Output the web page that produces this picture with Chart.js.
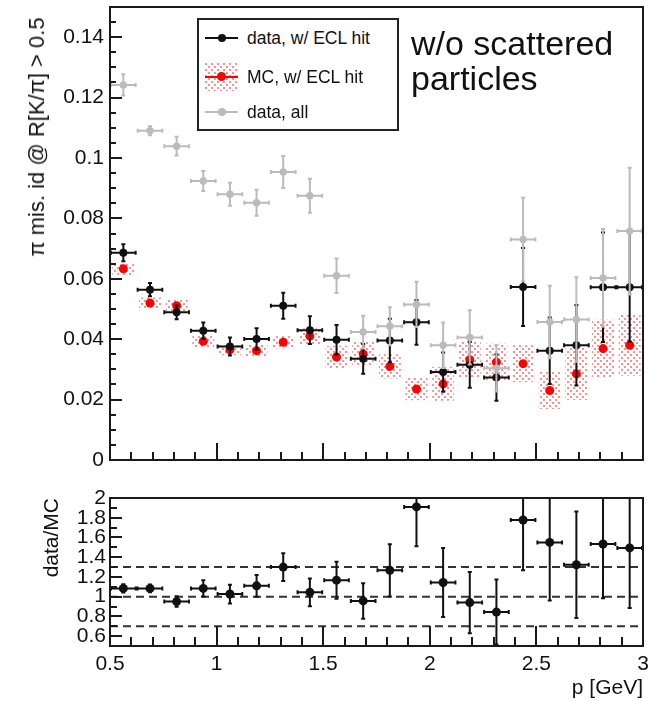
<!DOCTYPE html>
<html>
<head>
<meta charset="utf-8">
<script src="https://cdn.jsdelivr.net/npm/chart.js@4.4.1/dist/chart.umd.min.js"></script>
<style>
  body { margin: 0; background: #fff; width: 648px; height: 701px; position: relative; overflow: hidden;
         font-family: "Liberation Sans", Arial, sans-serif; color: #111; }
  canvas { position: absolute; left: 0; }
  #top { top: 0; }
  #bottom { top: 470px; }
  .ytitle { position: absolute; left: 37px; top: 137px; font-size: 22px; white-space: nowrap;
            transform: translate(-50%, -50%) rotate(-90deg); }
  .legend { position: absolute; left: 197px; top: 18px; width: 198px; height: 109px;
            border: 2px solid #222; background: #fff; }
  .row { position: absolute; left: 0; height: 30px; width: 100%; }
  .row .line { position: absolute; left: 6px; width: 33px; top: 14px; height: 2px; }
  .row .dot { position: absolute; left: 19px; top: 11px; width: 8px; height: 8px; border-radius: 50%; }
  .row .txt { position: absolute; left: 48px; top: 4px; font-size: 17.5px; line-height: 22px; white-space: nowrap; }
  #legHatch { position: absolute; left: 6px; top: 1px; }
  .note { position: absolute; left: 411px; top: 26px; font-size: 34px; line-height: 35px; color: #111; }
</style>
</head>
<body>
<canvas id="top" width="648" height="470"></canvas>
<canvas id="bottom" width="648" height="231"></canvas>

<div class="ytitle">π mis. id @ R[K/π] &gt; 0.5</div>
<div class="legend">
  <div class="row" style="top:3px"><div class="line" style="background:#111"></div><div class="dot" style="background:#111"></div><div class="txt">data, w/ ECL hit</div></div>
  <div class="row" style="top:42px"><canvas id="legHatch" width="33" height="28"></canvas><div class="line" style="background:#f00"></div><div class="dot" style="background:#f00;width:9px;height:9px;left:18px;top:10px"></div><div class="txt">MC, w/ ECL hit</div></div>
  <div class="row" style="top:77px"><div class="line" style="background:#bbb"></div><div class="dot" style="background:#bbb"></div><div class="txt">data, all</div></div>
</div>
<div class="note">w/o scattered<br>particles</div>

<script>
// momentum bins (centres, GeV) and half width
const pBins = [0.5625, 0.6875, 0.8125, 0.9375, 1.0625, 1.1875, 1.3125, 1.4375, 1.5625, 1.6875,
               1.8125, 1.9375, 2.0625, 2.1875, 2.3125, 2.4375, 2.5625, 2.6875, 2.8125, 2.9375];
const pHalf = 0.0625;

// pion mis-id rate, data with ECL hit
const dataEcl    = [0.0686, 0.0564, 0.0489, 0.0428, 0.0376, 0.0401, 0.0511, 0.0430, 0.0398, 0.0335,
                    0.0396, 0.0456, 0.0291, 0.0315, 0.0273, 0.0573, 0.0362, 0.0380, 0.0572, 0.0572];
const dataEclErr = [0.0028, 0.0022, 0.0023, 0.0027, 0.0030, 0.0035, 0.0043, 0.0046, 0.0049, 0.0049,
                    0.0072, 0.0074, 0.0065, 0.0076, 0.0077, 0.0129, 0.0110, 0.0133, 0.0181, 0.0180];

// MC with ECL hit
const mcEcl    = [0.0633, 0.0520, 0.0511, 0.0393, 0.0365, 0.0362, 0.0390, 0.0410, 0.0341, 0.0351,
                  0.0310, 0.0235, 0.0252, 0.0332, 0.0324, 0.0319, 0.0230, 0.0285, 0.0369, 0.0380];
const mcEclErr = [0.0019, 0.0017, 0.0019, 0.0019, 0.0017, 0.0019, 0.0019, 0.0025, 0.0036, 0.0039,
                  0.0039, 0.0036, 0.0055, 0.0058, 0.0060, 0.0060, 0.0060, 0.0085, 0.0094, 0.0100];

// data, all tracks
const dataAll    = [0.1242, 0.1090, 0.1039, 0.0924, 0.0880, 0.0852, 0.0954, 0.0875, 0.0610, 0.0424,
                    0.0443, 0.0515, 0.0380, 0.0406, 0.0304, 0.0730, 0.0457, 0.0465, 0.0603, 0.0758];
const dataAllErr = [0.0035, 0.0015, 0.0031, 0.0033, 0.0038, 0.0043, 0.0053, 0.0056, 0.0057, 0.0054,
                    0.0063, 0.0075, 0.0075, 0.0090, 0.0077, 0.0138, 0.0120, 0.0140, 0.0162, 0.0210];

// data/MC ratio
const ratio    = [1.084, 1.084, 0.950, 1.084, 1.027, 1.110, 1.300, 1.044, 1.167, 0.957,
                  1.267, 1.910, 1.144, 0.940, 0.844, 1.777, 1.550, 1.324, 1.534, 1.494];
const ratioErr = [0.043, 0.040, 0.053, 0.083, 0.095, 0.110, 0.140, 0.140, 0.187, 0.180,
                  0.265, 0.400, 0.350, 0.310, 0.330, 0.510, 0.590, 0.540, 0.550, 0.610];
const ratioRefs = [0.7, 1.0, 1.3];

// tick labels
const xLabels      = ['0.5', '1', '1.5', '2', '2.5', '3'];
const topYLabels   = ['0', '0.02', '0.04', '0.06', '0.08', '0.1', '0.12', '0.14'];
const ratioYLabels = ['0.6', '0.8', '1', '1.2', '1.4', '1.6', '1.8', '2'];

Chart.defaults.font.family = '"Liberation Sans", Arial, sans-serif';
Chart.defaults.color = '#111';

const BLACK = '#111111', GRAY = '#bbbbbb', RED = '#ff0000';

function pick(labels) {
  return v => {
    const s = String(+(+v).toFixed(4));
    return labels.includes(s) ? s : '';
  };
}

// ROOT-like error bars, drawn just under each dataset's markers
const errorBars = {
  id: 'errorBars',
  beforeDatasetDraw(chart, args) {
    const ds = chart.data.datasets[args.index];
    if (!ds.errY) return;
    const { ctx, chartArea: a, scales: { x, y } } = chart;
    ctx.save();
    ctx.beginPath();
    ctx.rect(a.left, a.top, a.width, a.height);
    ctx.clip();
    ctx.strokeStyle = ds.borderColor;
    ctx.lineWidth = 2;
    ctx.beginPath();
    ds.data.forEach((pt, i) => {
      const px = x.getPixelForValue(pt.x), py = y.getPixelForValue(pt.y);
      const x0 = x.getPixelForValue(pt.x - ds.errX) + 1, x1 = x.getPixelForValue(pt.x + ds.errX) - 1;
      const y0 = y.getPixelForValue(pt.y - ds.errY[i]), y1 = y.getPixelForValue(pt.y + ds.errY[i]);
      ctx.moveTo(x0, py); ctx.lineTo(x1, py);
      ctx.moveTo(px, y0); ctx.lineTo(px, y1);
      ctx.moveTo(x0, py - 2); ctx.lineTo(x0, py + 2);
      ctx.moveTo(x1, py - 2); ctx.lineTo(x1, py + 2);
      ctx.moveTo(px - 2, y0); ctx.lineTo(px + 2, y0);
      ctx.moveTo(px - 2, y1); ctx.lineTo(px + 2, y1);
    });
    ctx.stroke();
    ctx.restore();
  }
};

// frame with inward ticks
const rootFrame = {
  id: 'rootFrame',
  afterDraw(chart, args, opts) {
    const { ctx, chartArea: a, scales: { x, y } } = chart;
    ctx.save();
    ctx.strokeStyle = '#1a1a1a';
    ctx.lineWidth = 2;
    ctx.beginPath();
    x.ticks.forEach(t => {
      const px = Math.round(x.getPixelForValue(t.value));
      const len = t.label ? opts.xMajor : opts.xMinor;
      ctx.moveTo(px, a.bottom); ctx.lineTo(px, a.bottom - len);
    });
    y.ticks.forEach(t => {
      const py = Math.round(y.getPixelForValue(t.value));
      const len = t.label ? opts.yMajor : opts.yMinor;
      ctx.moveTo(a.left, py); ctx.lineTo(a.left + len, py);
    });
    ctx.stroke();
    ctx.strokeRect(a.left, a.top, a.width, a.height);
    ctx.restore();
  }
};

function points(xs, ys) { return xs.map((x, i) => ({ x, y: ys[i] })); }

// fixed axis sizes, no extra label padding
function fixX(h) { return s => { s.height = h; s.paddingLeft = 0; s.paddingRight = 0; }; }
function fixY(w) { return s => { s.width = w; s.paddingTop = 0; s.paddingBottom = 0; }; }

// staggered dot fill, like ROOT fill style for the MC uncertainty
const hatchTile = document.createElement('canvas');
hatchTile.width = 6; hatchTile.height = 6;
const hctx = hatchTile.getContext('2d');
hctx.fillStyle = '#ff9090';
hctx.fillRect(0, 0, 2, 2);
hctx.fillRect(3, 3, 2, 2);

const topCanvas = document.getElementById('top');
const hatch = topCanvas.getContext('2d').createPattern(hatchTile, 'repeat');

const legCtx = document.getElementById('legHatch').getContext('2d');
legCtx.fillStyle = legCtx.createPattern(hatchTile, 'repeat');
legCtx.fillRect(0, 0, 33, 28);

new Chart(topCanvas, {
  type: 'scatter',
  data: {
    datasets: [
      { label: 'data, all', data: points(pBins, dataAll), errY: dataAllErr, errX: pHalf,
        backgroundColor: GRAY, borderColor: GRAY, pointRadius: 3.7, pointBorderWidth: 0, order: 0 },
      { label: 'data, w/ ECL hit', data: points(pBins, dataEcl), errY: dataEclErr, errX: pHalf,
        backgroundColor: BLACK, borderColor: BLACK, pointRadius: 4, pointBorderWidth: 0, order: 1 },
      { label: 'MC, w/ ECL hit', data: points(pBins, mcEcl),
        backgroundColor: RED, borderColor: RED, pointRadius: 4.5, pointBorderWidth: 0, order: 2 },
      { type: 'bar', label: 'MC error', data: pBins.map((x, i) => ({ x, y: [mcEcl[i] - mcEclErr[i], mcEcl[i] + mcEclErr[i]] })),
        backgroundColor: hatch, borderWidth: 0, barPercentage: 1, categoryPercentage: 1, order: 3 }
    ]
  },
  options: {
    responsive: false, animation: false, events: [],
    layout: { padding: { top: 7, right: 5, bottom: 0, left: 0 } },
    plugins: { legend: { display: false }, tooltip: { enabled: false },
               rootFrame: { xMajor: 17, xMinor: 8, yMajor: 12, yMinor: 6 } },
    scales: {
      x: { type: 'linear', min: 0.5, max: 3, offset: false,
           grid: { display: false, drawTicks: false }, border: { display: false },
           ticks: { display: false, stepSize: 0.1, autoSkip: false, callback: pick(xLabels) },
           afterFit: fixX(10) },
      y: { type: 'linear', min: 0, max: 0.15, beginAtZero: false,
           grid: { display: false, drawTicks: false }, border: { display: false },
           ticks: { stepSize: 0.005, autoSkip: false, padding: 6, font: { size: 21 }, callback: pick(topYLabels) },
           afterFit: fixY(110) }
    }
  },
  plugins: [errorBars, rootFrame]
});

new Chart(document.getElementById('bottom'), {
  type: 'scatter',
  data: {
    datasets: [
      { label: 'data/MC', data: points(pBins, ratio), errY: ratioErr, errX: pHalf,
        backgroundColor: BLACK, borderColor: BLACK, pointRadius: 4.5, pointBorderWidth: 0, order: 0 },
      ...ratioRefs.map(r => ({
        type: 'line', label: 'ref ' + r, data: [{ x: 0.5, y: r }, { x: 3, y: r }],
        borderColor: '#333', borderWidth: 2, borderDash: [8, 5], pointRadius: 0, order: 1
      }))
    ]
  },
  options: {
    responsive: false, animation: false, events: [],
    layout: { padding: { top: 28, right: 5, bottom: 0, left: 0 } },
    plugins: { legend: { display: false }, tooltip: { enabled: false },
               rootFrame: { xMajor: 20, xMinor: 9, yMajor: 12, yMinor: 7 } },
    scales: {
      x: { type: 'linear', min: 0.5, max: 3, offset: false,
           grid: { display: false, drawTicks: false }, border: { display: false },
           ticks: { stepSize: 0.1, autoSkip: false, maxRotation: 0, padding: 6, font: { size: 21 }, callback: pick(xLabels) },
           title: { display: true, text: 'p [GeV]', align: 'end', font: { size: 21 }, padding: { top: 0, bottom: 0 } },
           afterFit: fixX(55) },
      y: { type: 'linear', min: 0.5, max: 2, beginAtZero: false,
           grid: { display: false, drawTicks: false }, border: { display: false },
           ticks: { stepSize: 0.1, autoSkip: false, padding: 4, font: { size: 21 }, callback: pick(ratioYLabels) },
           title: { display: true, text: 'data/MC', align: 'end', font: { size: 21 }, padding: { top: 40, bottom: 0 } },
           afterFit: fixY(110) }
    }
  },
  plugins: [errorBars, rootFrame]
});
</script>
</body>
</html>
